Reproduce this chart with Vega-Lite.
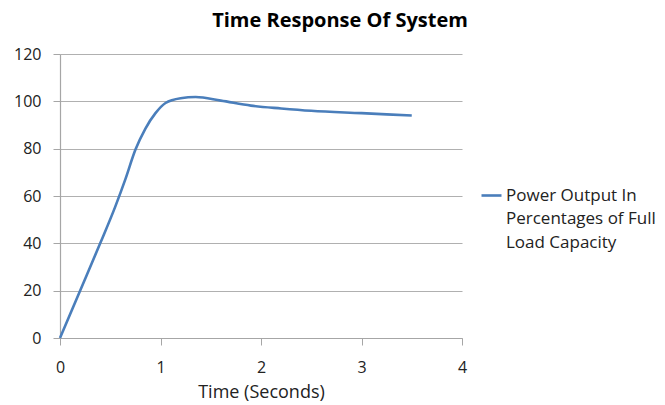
{
  "$schema": "https://vega.github.io/schema/vega-lite/v6.json",
  "width": 402,
  "height": 284,
  "autosize": {"type": "none"},
  "padding": {"left": 60, "top": 54, "right": 203, "bottom": 67},
  "background": "white",
  "title": {"text": "Time Response Of System", "font": "Open Sans", "fontSize": 20, "fontWeight": "bold", "color": "#000000", "anchor": "middle", "dx": 79, "offset": 15},
  "data": {"values": [
    {"t": 0, "p": 0, "s": "Power Output"},
    {"t": 0.2, "p": 20, "s": "Power Output"},
    {"t": 0.4, "p": 40, "s": "Power Output"},
    {"t": 0.55, "p": 55.5, "s": "Power Output"},
    {"t": 0.65, "p": 67, "s": "Power Output"},
    {"t": 0.75, "p": 79.5, "s": "Power Output"},
    {"t": 0.85, "p": 88.5, "s": "Power Output"},
    {"t": 0.95, "p": 95, "s": "Power Output"},
    {"t": 1.05, "p": 99.3, "s": "Power Output"},
    {"t": 1.2, "p": 101.3, "s": "Power Output"},
    {"t": 1.35, "p": 101.8, "s": "Power Output"},
    {"t": 1.6, "p": 100.3, "s": "Power Output"},
    {"t": 1.9, "p": 98.2, "s": "Power Output"},
    {"t": 2.2, "p": 97, "s": "Power Output"},
    {"t": 2.5, "p": 96, "s": "Power Output"},
    {"t": 3.0, "p": 95, "s": "Power Output"},
    {"t": 3.5, "p": 94, "s": "Power Output"}
  ]},
  "mark": {"type": "line", "interpolate": "monotone", "strokeWidth": 2.6},
  "encoding": {
    "x": {"field": "t", "type": "quantitative", "scale": {"domain": [0, 4], "nice": false},
      "axis": {"values": [0, 1, 2, 3, 4], "grid": false, "labelFlush": false, "title": "Time (Seconds)", "titleFont": "Open Sans", "titleFontSize": 18, "titleFontWeight": "normal", "titleColor": "#222222", "titlePadding": 8, "labelFont": "Open Sans", "labelFontSize": 16, "labelColor": "#222222", "labelPadding": 14, "tickSize": 7, "tickColor": "#a6a6a6", "domainColor": "#a6a6a6", "domainWidth": 1.2}},
    "y": {"field": "p", "type": "quantitative", "scale": {"domain": [0, 120], "nice": false},
      "axis": {"values": [0, 20, 40, 60, 80, 100, 120], "title": null, "grid": true, "gridColor": "#b0b0b0", "gridWidth": 1.2, "labelFont": "Open Sans", "labelFontSize": 16, "labelColor": "#222222", "labelPadding": 12, "tickSize": 7, "tickColor": "#a6a6a6", "domainColor": "#a6a6a6", "domainWidth": 1.2}},
    "color": {"field": "s", "type": "nominal", "scale": {"range": ["#4a7ebb"]},
      "legend": {"orient": "none", "legendX": 420, "legendY": 130, "title": null, "symbolType": "stroke", "symbolStrokeWidth": 2.6, "symbolSize": 400, "labelFont": "Open Sans", "labelFontSize": 17, "labelColor": "#222222", "labelLimit": 300, "labelOffset": 3, "labelBaseline": "middle",
        "labelExpr": "['Power Output In', 'Percentages of Full', 'Load Capacity']"}}
  },
  "config": {"view": {"stroke": null}, "style": {"guide-label": {"lineHeight": 23.5}}}
}
